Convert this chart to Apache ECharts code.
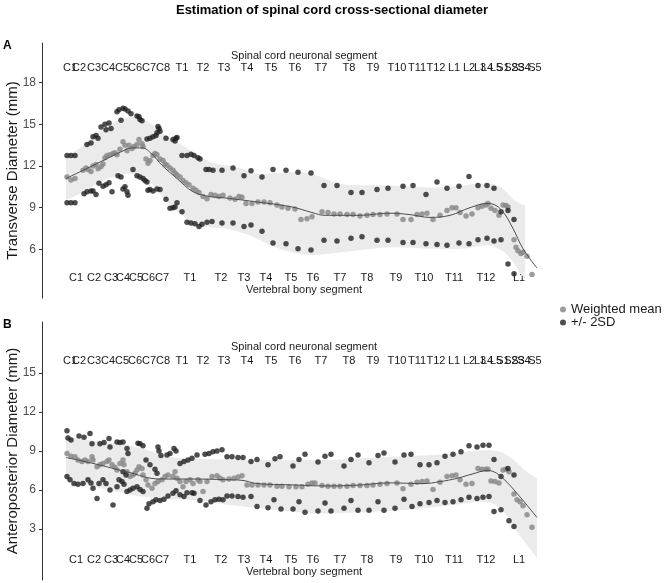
<!DOCTYPE html>
<html>
<head>
<meta charset="utf-8">
<script src="https://cdn.jsdelivr.net/npm/echarts@6/dist/echarts.min.js"></script>
<style>
  html, body { margin: 0; padding: 0; background: #fff; }
  #chart { width: 664px; height: 583px; }
</style>
</head>
<body>
<div id="chart"></div>
<script>
// x = position along the spinal canal (arbitrary units), y = diameter (mm)

// label positions
const vertebraNames = ['C1','C2','C3','C4','C5','C6','C7','T1','T2','T3','T4','T5','T6','T7','T8','T9','T10','T11','T12','L1'];
const vertebraPos = [34, 52, 69, 81, 94, 106, 120, 148, 179, 202, 224, 249, 271, 298, 325, 354, 382, 412, 444, 477];
const segmentNames = ['C1','C2','C3','C4','C5','C6','C7','C8','T1','T2','T3','T4','T5','T6','T7','T8','T9','T10','T11','T12','L1','L2','L3','L4','L5','S1','S2','S3','S4','S5'];
const segmentPos = [28, 37, 52, 66, 80, 93, 107, 121, 140, 161, 182, 205, 229, 253, 279, 307, 331, 355, 375, 394, 412, 427, 438, 445, 454, 461, 469, 476, 482, 493];
const tdTicks = [6, 9, 12, 15, 18];
const apTicks = [3, 6, 9, 12, 15];

// A: transverse diameter
const tdMean = [[25,11.2],[29,11.0],[33,11.1],[41,11.7],[44,11.85],[46,11.75],[49,11.6],[51,12.0],[54,12.1],[56,11.8],[59,11.95],[61,12.15],[63,12.6],[65,12.75],[68,12.8],[71,12.9],[73,12.95],[75,12.8],[78,13.2],[81,13.75],[83,13.5],[85,13.1],[87,13.5],[90,13.25],[92,13.4],[95,13.55],[97,13.9],[100,13.6],[101,13.4],[104,12.5],[106,12.2],[108,12.4],[111,12.75],[113,12.9],[115,12.8],[118,12.5],[121,12.4],[123,12.15],[125,12.05],[128,11.85],[131,11.7],[133,11.5],[135,11.35],[138,11.2],[141,10.95],[144,10.8],[147,10.65],[151,10.4],[154,10.25],[157,10.1],[161,9.8],[165,9.65],[169,9.95],[173,9.9],[177,9.8],[181,9.9],[188,9.7],[193,9.6],[197,9.8],[200,9.75],[204,9.3],[210,9.3],[216,9.4],[222,9.4],[228,9.35],[235,9.2],[240,9.05],[246,8.95],[253,8.9],[259,8.15],[265,8.2],[270,8.35],[280,8.7],[286,8.65],[292,8.55],[298,8.55],[305,8.5],[311,8.5],[318,8.4],[325,8.45],[331,8.5],[338,8.5],[345,8.55],[355,8.55],[361,8.15],[369,8.15],[375,8.5],[380,8.55],[385,8.6],[391,8.15],[398,8.45],[405,8.8],[410,9.0],[414,9.0],[418,8.65],[424,8.4],[430,8.55],[436,9.0],[440,9.1],[444,9.2],[446,9.3],[449,8.95],[453,8.8],[457,8.45],[461,9.2],[464,9.15],[466,9.05],[472,6.7],[474,6.15],[476,5.9],[479,5.7],[481,5.8],[485,5.5],[490,4.2]];
const tdSdHigh = [[25,12.75],[29,12.75],[33,12.75],[45,13.55],[49,13.65],[51,14.1],[54,14.2],[56,14.0],[59,14.8],[63,15.0],[64,14.6],[67,15.1],[69,14.7],[75,15.9],[77,16.05],[79,15.3],[81,16.15],[83,16.1],[86,15.95],[89,15.75],[95,15.6],[97,15.55],[98,15.35],[100,15.25],[105,13.95],[108,14.0],[111,14.1],[114,14.2],[115,14.4],[116,14.85],[117,14.7],[118,14.5],[124,14.0],[131,13.9],[133,13.8],[134,14.0],[135,14.05],[140,12.75],[145,12.75],[149,12.85],[152,12.75],[156,12.6],[158,12.5],[164,11.75],[167,11.75],[171,11.7],[180,11.7],[191,11.85],[202,11.3],[209,11.65],[220,11.2],[231,11.75],[244,11.7],[256,11.55],[269,11.5],[282,10.6],[295,10.6],[309,10.1],[320,10.1],[335,10.3],[346,10.4],[361,10.55],[371,10.6],[384,9.95],[395,10.85],[405,10.4],[417,10.55],[427,11.25],[436,10.6],[445,10.6],[452,10.4],[459,8.7],[466,8.8],[472,8.15]];
const tdSdLow = [[25,9.35],[29,9.35],[33,9.35],[42,10.0],[45,10.15],[49,10.2],[51,10.2],[54,9.95],[57,10.75],[61,10.55],[64,10.65],[67,10.8],[70,10.15],[76,11.3],[79,11.2],[81,10.35],[83,10.5],[85,10.15],[86,9.9],[91,11.75],[95,11.3],[98,11.2],[101,11.1],[103,10.95],[105,10.85],[106,10.25],[108,10.3],[111,10.2],[115,10.35],[118,10.3],[124,9.6],[128,8.95],[131,9.0],[133,9.05],[135,9.35],[140,8.7],[145,7.95],[149,7.9],[153,7.85],[157,7.65],[160,7.8],[165,7.95],[170,8.0],[180,7.9],[191,7.9],[202,7.65],[209,7.75],[220,7.3],[231,6.45],[244,6.4],[256,6.05],[269,5.95],[282,6.65],[295,6.6],[309,6.8],[320,6.9],[335,6.65],[346,6.65],[361,6.5],[371,6.5],[384,6.4],[395,6.35],[405,6.3],[417,6.45],[427,6.4],[436,6.7],[445,6.8],[452,6.6],[459,6.7],[466,4.95],[472,4.25]];
const tdFitX = [24, 40, 60, 80, 90, 100, 110, 120, 135, 151, 168, 183, 216, 250, 270, 283, 316, 348, 368, 388, 408, 428, 445, 451, 461, 471, 481, 495];
const tdFitY = [11.1, 11.65, 12.35, 13.05, 13.3, 13.3, 12.85, 12.05, 11.1, 10.15, 9.8, 9.7, 9.4, 9.05, 8.65, 8.45, 8.45, 8.6, 8.5, 8.3, 8.45, 9.0, 9.3, 9.25, 8.7, 7.5, 6.05, 4.65];
const tdBandX = [24, 40, 60, 80, 95, 108, 120, 135, 151, 168, 183, 200, 216, 233, 250, 270, 300, 348, 390, 420, 445, 460, 470, 478, 483];
const tdBandLow = [9.55, 10.1, 10.9, 11.4, 11.4, 10.9, 9.8, 8.8, 7.85, 7.6, 7.5, 7.2, 6.75, 6.15, 5.8, 5.6, 5.8, 6.15, 6.05, 6.05, 6.3, 5.9, 5.2, 4.3, 3.9];
const tdBandHigh = [12.65, 13.4, 14.6, 15.4, 15.5, 15.1, 14.4, 13.7, 13.0, 12.3, 12.05, 11.8, 11.45, 11.5, 11.55, 11.45, 10.7, 10.6, 10.45, 10.6, 10.75, 10.4, 9.7, 9.3, 9.2];

// B: anteroposterior diameter
const apMean = [[25,8.8],[29,8.6],[33,8.55],[36,8.3],[40,8.2],[43,8.3],[46,8.2],[50,8.55],[51,8.3],[55,7.8],[58,7.95],[61,8.05],[65,8.2],[67,8.3],[70,7.95],[73,7.75],[75,7.55],[78,8.05],[81,8.3],[82,7.95],[85,7.4],[88,7.05],[91,7.15],[93,7.3],[95,7.55],[97,7.8],[100,7.65],[101,7.15],[104,6.8],[106,6.4],[110,6.15],[113,6.5],[116,6.65],[120,6.8],[123,7.05],[126,7.15],[131,7.05],[133,7.4],[135,6.9],[138,6.65],[141,6.25],[144,6.65],[148,6.8],[151,6.5],[156,6.8],[158,6.65],[161,5.9],[165,6.65],[170,7.05],[175,7.1],[178,6.9],[181,6.8],[187,6.85],[192,6.9],[196,7.0],[200,7.1],[205,6.4],[210,6.4],[216,6.4],[222,6.4],[228,6.4],[235,6.3],[240,6.3],[247,6.25],[254,6.25],[260,6.25],[266,6.45],[270,6.55],[273,6.55],[280,6.35],[286,6.3],[292,6.3],[298,6.3],[305,6.3],[311,6.35],[318,6.35],[325,6.35],[331,6.4],[338,6.45],[345,6.5],[355,6.55],[361,6.1],[369,6.45],[375,6.6],[380,6.65],[385,6.7],[391,6.05],[398,6.6],[405,7.05],[410,7.1],[414,7.15],[418,6.8],[424,6.45],[430,6.5],[436,7.65],[440,7.6],[444,7.6],[446,7.6],[449,6.7],[453,6.65],[457,6.55],[461,7.55],[464,7.6],[467,7.4],[472,5.7],[475,5.25],[478,5.1],[481,4.8],[485,4.1],[490,3.15]];
const apSdHigh = [[25,10.55],[26,10.0],[29,9.85],[37,10.15],[42,10.05],[48,10.35],[50,9.55],[58,9.55],[62,9.65],[67,9.95],[68,9.3],[75,9.7],[78,9.65],[81,9.7],[85,9.2],[86,8.8],[96,9.6],[98,9.55],[101,9.4],[116,9.3],[117,9.0],[119,8.65],[125,8.7],[128,8.8],[132,9.2],[134,9.0],[138,8.05],[142,8.2],[146,8.3],[150,8.45],[155,8.7],[163,8.75],[167,8.8],[171,8.95],[175,9.0],[180,9.1],[185,8.55],[190,8.55],[196,8.5],[201,8.5],[209,8.2],[215,8.35],[226,7.95],[233,8.4],[238,8.55],[251,7.85],[257,8.35],[263,8.75],[276,8.15],[283,8.6],[289,8.75],[302,7.85],[309,8.35],[316,8.7],[327,8.1],[336,8.65],[342,8.85],[353,8.15],[362,8.7],[369,8.75],[378,7.95],[387,7.95],[395,8.1],[403,8.6],[411,8.75],[419,8.95],[427,9.4],[435,9.3],[441,9.45],[447,9.45],[452,8.35],[459,7.05],[466,7.65],[472,7.15],[81,7.4],[84,7.15],[104,8.3],[108,7.95],[113,7.6],[115,7.3]];
const apSdLow = [[25,7.05],[28,6.8],[32,6.5],[36,6.45],[41,6.5],[46,6.8],[49,6.55],[51,6.15],[55,5.35],[57,6.5],[61,6.8],[64,6.5],[68,6.0],[71,4.85],[75,6.25],[77,6.8],[80,6.65],[82,6.45],[85,5.9],[88,6.0],[91,6.15],[95,6.25],[98,6.05],[101,5.9],[105,4.6],[107,4.95],[111,5.1],[114,5.25],[118,5.2],[122,5.3],[126,5.55],[131,5.75],[134,5.95],[138,5.65],[142,5.5],[145,5.8],[150,5.8],[152,5.75],[158,5.2],[164,4.85],[169,5.1],[173,5.25],[177,5.3],[181,5.25],[185,5.55],[190,5.55],[196,5.5],[201,5.45],[209,5.5],[215,4.75],[226,4.65],[232,5.25],[239,4.55],[251,4.55],[257,5.1],[263,4.3],[276,4.4],[283,5.0],[289,4.4],[302,4.6],[309,5.2],[316,4.45],[327,4.45],[336,5.1],[342,4.45],[353,4.6],[362,5.3],[370,4.75],[378,4.95],[387,5.05],[395,5.2],[403,5.05],[411,5.1],[419,5.25],[427,5.45],[435,5.35],[441,5.45],[447,5.5],[452,4.35],[459,4.5],[467,3.65],[472,3.2]];
const apFitX = [24, 51, 85, 118, 151, 183, 200, 215, 250, 283, 316, 348, 381, 398, 415, 431, 445, 452, 461, 475, 495];
const apFitY = [8.5, 8.05, 7.4, 6.85, 6.85, 6.8, 6.75, 6.5, 6.4, 6.32, 6.38, 6.55, 6.5, 6.65, 6.9, 7.25, 7.5, 7.4, 6.9, 5.75, 3.9];
const apBandX = [24, 50, 80, 100, 125, 150, 183, 220, 266, 300, 348, 380, 415, 440, 455, 465, 475, 485, 495];
const apBandLow = [6.8, 6.3, 5.8, 5.5, 5.3, 5.25, 4.9, 4.6, 4.25, 4.25, 4.4, 4.6, 4.9, 5.1, 4.8, 4.0, 2.8, 1.8, 0.8];
const apBandHigh = [10.1, 9.8, 9.5, 9.2, 8.6, 8.4, 8.35, 8.3, 8.3, 8.35, 8.55, 8.65, 8.85, 9.05, 9.0, 8.7, 8.1, 7.4, 6.9];

const FONT = 'Liberation Sans, Arial, sans-serif';
const GREY = '#858585';
const BLACK = '#222222';
const X_MIN = 0, X_MAX = 524;

const zip = (xs, ys) => xs.map((x, i) => [x, ys[i]]);

// smooth curve through pixel points (Catmull-Rom as cubic Beziers)
function curve(pts, first) {
  let d = (first ? 'M' : 'L') + pts[0][0] + ',' + pts[0][1];
  for (let i = 0; i < pts.length - 1; i++) {
    const p0 = pts[Math.max(i - 1, 0)], p1 = pts[i], p2 = pts[i + 1], p3 = pts[Math.min(i + 2, pts.length - 1)];
    const c1 = [p1[0] + (p2[0] - p0[0]) / 6, p1[1] + (p2[1] - p0[1]) / 6];
    const c2 = [p2[0] - (p3[0] - p1[0]) / 6, p2[1] - (p3[1] - p1[1]) / 6];
    d += ' C' + c1[0] + ',' + c1[1] + ' ' + c2[0] + ',' + c2[1] + ' ' + p2[0] + ',' + p2[1];
  }
  return d;
}

// blank labels at both ends so ECharts never drops the real first/last label
function labelAxis(grid, position, names, positions, labelMargin, name, nameGap) {
  return {
    type: 'value', gridIndex: grid, position: position, min: X_MIN, max: X_MAX,
    name: name, nameLocation: 'middle', nameGap: nameGap, nameMoveOverlap: false,
    nameTextStyle: { fontSize: 11, color: '#1a1a1a', fontFamily: FONT },
    axisLine: { show: false }, axisTick: { show: false }, splitLine: { show: false },
    axisLabel: {
      inside: true, margin: labelMargin, hideOverlap: false,
      customValues: [X_MIN].concat(positions, [X_MAX]),
      formatter: v => { const i = positions.indexOf(v); return i < 0 ? '' : names[i]; },
      fontSize: 11, color: '#1a1a1a', fontFamily: FONT
    }
  };
}

function yAxis(grid, name, min, max, ticks) {
  return {
    type: 'value', gridIndex: grid, min: min, max: max,
    name: name, nameLocation: 'middle', nameGap: 22, nameMoveOverlap: false,
    nameTextStyle: { fontSize: 15, color: '#1a1a1a', fontFamily: FONT },
    axisLine: { show: true, lineStyle: { color: '#333', width: 1 } },
    axisTick: { show: true, length: 3, customValues: ticks, lineStyle: { color: '#333' } },
    axisLabel: { customValues: ticks, fontSize: 12, color: '#4d4d4d', margin: 6, fontFamily: FONT },
    splitLine: { show: false }
  };
}

function panelSeries(axisX, axisY, key, mean, high, low, fitX, fitY, bandX, bandLow, bandHigh) {
  return [
    {
      type: 'custom', name: 'band-' + key, xAxisIndex: axisX, yAxisIndex: axisY, silent: true, z: 1,
      data: bandX.map((x, i) => [x, bandLow[i], bandHigh[i]]),
      encode: { x: 0, y: [1, 2] },
      renderItem: function (params, api) {
        if (params.dataIndex !== 0) return null;
        const up = bandX.map((x, i) => api.coord([x, bandHigh[i]]));
        const lo = bandX.map((x, i) => api.coord([x, bandLow[i]])).reverse();
        return {
          type: 'path',
          shape: { pathData: curve(up, true) + ' ' + curve(lo, false) + ' Z' },
          style: { fill: '#ebebeb' }
        };
      }
    },
    {
      type: 'scatter', name: 'Weighted mean', xAxisIndex: axisX, yAxisIndex: axisY,
      symbolSize: 5.5, itemStyle: { color: GREY }, data: mean, z: 3
    },
    {
      type: 'scatter', name: '+/- 2SD', xAxisIndex: axisX, yAxisIndex: axisY,
      symbolSize: 5.5, itemStyle: { color: BLACK }, data: high, z: 3
    },
    {
      type: 'scatter', name: '+/- 2SD', xAxisIndex: axisX, yAxisIndex: axisY,
      symbolSize: 5.5, itemStyle: { color: BLACK }, data: low, z: 3
    },
    {
      type: 'line', name: 'fit-' + key, xAxisIndex: axisX, yAxisIndex: axisY,
      smooth: 0.4, symbol: 'none', silent: true,
      lineStyle: { color: '#4d4d4d', width: 1 }, data: zip(fitX, fitY), z: 4
    }
  ];
}

const chart = echarts.init(document.getElementById('chart'));
chart.setOption({
  animation: false,
  backgroundColor: '#fff',
  textStyle: { fontFamily: FONT },
  title: [
    { text: 'Estimation of spinal cord cross-sectional diameter', left: 'center', top: 4, padding: 0,
      textStyle: { fontSize: 13, fontWeight: 'bold', color: '#000', fontFamily: FONT } },
    { text: 'A', left: 3, top: 40, padding: 0, textStyle: { fontSize: 12, fontWeight: 'bold', color: '#000', fontFamily: FONT } },
    { text: 'B', left: 3, top: 319, padding: 0, textStyle: { fontSize: 12, fontWeight: 'bold', color: '#000', fontFamily: FONT } }
  ],
  legend: {
    data: ['Weighted mean', '+/- 2SD'], orient: 'vertical', left: 560, top: 303,
    padding: 0, itemWidth: 6, itemHeight: 6, itemGap: 0, icon: 'circle',
    textStyle: { fontSize: 13, color: '#1a1a1a', lineHeight: 12, fontFamily: FONT }
  },
  grid: [
    { left: 42, top: 43, width: 524, height: 255, outerBoundsMode: 'none' },
    { left: 42, top: 322, width: 524, height: 258, outerBoundsMode: 'none' }
  ],
  xAxis: [
    labelAxis(0, 'bottom', vertebraNames, vertebraPos, 15, 'Vertebral bony segment', -14),
    labelAxis(0, 'top', segmentNames, segmentPos, 19, 'Spinal cord neuronal segment', -18),
    labelAxis(1, 'bottom', vertebraNames, vertebraPos, 15, 'Vertebral bony segment', -14),
    labelAxis(1, 'top', segmentNames, segmentPos, 33, 'Spinal cord neuronal segment', -30)
  ],
  yAxis: [
    yAxis(0, 'Transverse Diameter (mm)', 2.5, 20.85, tdTicks),
    yAxis(1, 'Anteroposterior Diameter (mm)', -0.9, 18.9, apTicks)
  ],
  series: [].concat(
    panelSeries(0, 0, 'A', tdMean, tdSdHigh, tdSdLow, tdFitX, tdFitY, tdBandX, tdBandLow, tdBandHigh),
    panelSeries(2, 1, 'B', apMean, apSdHigh, apSdLow, apFitX, apFitY, apBandX, apBandLow, apBandHigh)
  )
});
</script>
</body>
</html>
